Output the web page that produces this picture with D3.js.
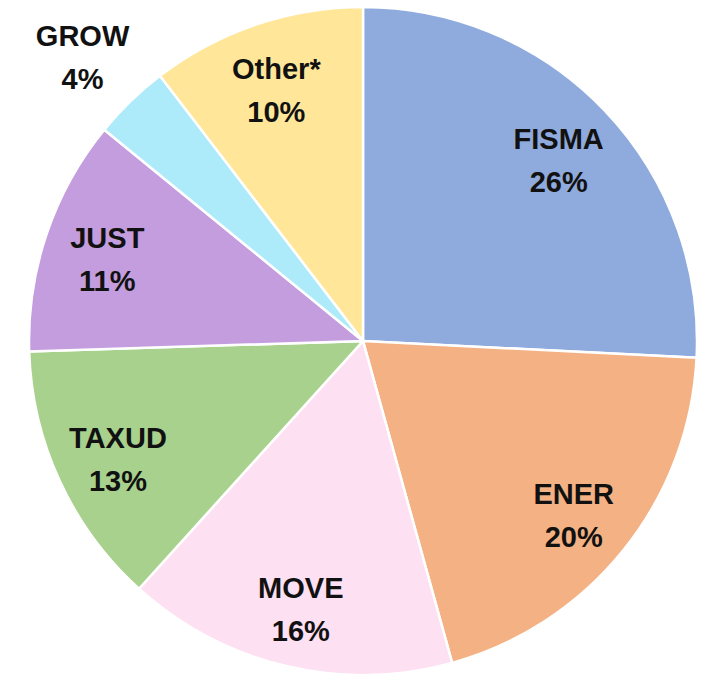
<!DOCTYPE html>
<html>
<head>
<meta charset="utf-8">
<script src="https://cdn.jsdelivr.net/npm/d3@7"></script>
<style>
  body { margin: 0; background: #fff; }
  svg { display: block; }
</style>
</head>
<body>
<div class="pie"></div>
<script>
// slices, clockwise from 12 o'clock
var names = ['FISMA', 'ENER', 'MOVE', 'TAXUD', 'JUST', 'GROW', 'Other*'];
var shares = [25.8, 19.9, 16.0, 12.8, 11.4, 3.7, 10.4];
var colors = ['#8FAADC', '#F4B183', '#FDE0F1', '#A9D18E', '#C49DDF', '#ADEBFA', '#FFE699'];

var width = 705;
var height = 675;
var cx = 363, cy = 341;
var radius = 334;

var data = names.map(function(n, i) {
  return { name: n, value: shares[i], color: colors[i] };
});

var svg = d3.select('div.pie')
  .append('svg')
  .attr('width', width)
  .attr('height', height);

var g = svg.append('g')
  .attr('transform', 'translate(' + cx + ',' + cy + ')');

var pie = d3.pie()
  .sort(null)
  .value(function(d) { return d.value; });

var arc = d3.arc().innerRadius(0).outerRadius(radius);
var labelArc = d3.arc().innerRadius(270).outerRadius(270);
var outerArc = d3.arc().innerRadius(403).outerRadius(403);

var arcs = pie(data);

g.selectAll('path')
  .data(arcs)
  .enter()
  .append('path')
  .attr('d', arc)
  .attr('fill', function(d) { return d.data.color; })
  .attr('stroke', '#fff')
  .attr('stroke-width', 2.5);

// small slices get their label outside the pie
var labels = g.selectAll('g.lbl')
  .data(arcs)
  .enter()
  .append('g')
  .attr('class', 'lbl')
  .attr('transform', function(d) {
    var p = d.data.value < 5 ? outerArc.centroid(d) : labelArc.centroid(d);
    return 'translate(' + p[0] + ',' + (p[1] + 5) + ')';
  })
  .style('font-family', '"Liberation Sans", Arial, sans-serif')
  .style('font-weight', 'bold')
  .style('font-size', '29px')
  .attr('text-anchor', 'middle')
  .attr('fill', '#111');

labels.append('text')
  .attr('y', -21)
  .attr('dominant-baseline', 'central')
  .text(function(d) { return d.data.name; });

labels.append('text')
  .attr('y', 22)
  .attr('dominant-baseline', 'central')
  .text(function(d) { return Math.round(d.data.value) + '%'; });
</script>
</body>
</html>
